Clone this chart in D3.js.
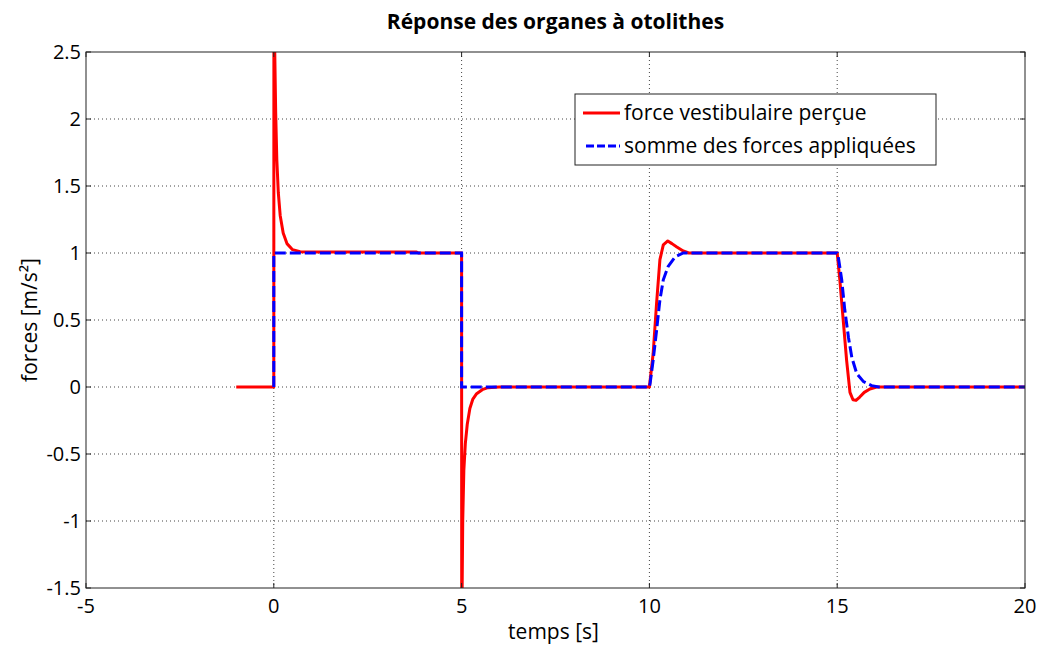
<!DOCTYPE html>
<html>
<head>
<meta charset="utf-8">
<script src="https://cdn.jsdelivr.net/npm/d3@7"></script>
<style>
  body { margin: 0; background: #fff; }
  svg { display: block; font-family: "Open Sans", "DejaVu Sans", sans-serif; }
  .grid line { stroke: #444; stroke-width: 1; stroke-dasharray: 1,3; }
  .tick-label { font-size: 20px; fill: #000; }
</style>
</head>
<body>
<svg id="chart" width="1043" height="646"></svg>
<script>
// values
const xTicks = [-5, 0, 5, 10, 15, 20];
const yTicks = [-1.5, -1, -0.5, 0, 0.5, 1, 1.5, 2, 2.5];

const redT = [-1, 0, 0.003, 0.02, 0.05, 0.08, 0.12, 0.17, 0.25, 0.35, 0.5, 0.7, 1.0, 3.8, 3.85,
  5, 5.003, 5.03, 5.06, 5.1, 5.15, 5.22, 5.3, 5.4, 5.55, 5.7, 6,
  10, 10.1, 10.19, 10.28, 10.37, 10.49, 10.6, 10.73, 10.9, 11.05,
  15, 15.07, 15.16, 15.25, 15.34, 15.42, 15.5, 15.6, 15.72, 15.87, 16.05, 20];
const redV = [0, 0, 3.2, 2.6, 2.05, 1.7, 1.45, 1.28, 1.15, 1.07, 1.025, 1.01, 1.008, 1.008, 1.0,
  1.0, -1.9, -1.0, -0.62, -0.42, -0.28, -0.16, -0.09, -0.05, -0.02, -0.005, 0,
  0, 0.25, 0.62, 0.95, 1.06, 1.09, 1.07, 1.045, 1.015, 1.0,
  1.0, 0.8, 0.5, 0.2, -0.04, -0.095, -0.1, -0.075, -0.04, -0.015, 0, 0];

const blueT = [0, 0, 5, 5, 10, 10.02, 10.1, 10.19, 10.28, 10.37, 10.5, 10.68, 10.9,
  15, 15.03, 15.12, 15.2, 15.3, 15.39, 15.52, 15.7, 15.92, 16.1, 20];
const blueV = [0, 1, 1, 0, 0, 0.03, 0.2, 0.42, 0.65, 0.8, 0.9, 0.97, 1.0,
  1.0, 0.97, 0.8, 0.58, 0.37, 0.22, 0.1, 0.04, 0.01, 0, 0];

const seriesNames = ['force vestibulaire perçue', 'somme des forces appliquées'];

const L = 86, R = 1025, T = 52, B = 588;
const svg = d3.select('#chart');
const x = d3.scaleLinear().domain([-5, 20]).range([L, R]);
const y = d3.scaleLinear().domain([-1.5, 2.5]).range([B, T]);

// grid
const grid = svg.append('g').attr('class', 'grid');
grid.selectAll('.gx').data(xTicks.slice(1, -1)).enter().append('line')
  .attr('x1', d => x(d)).attr('x2', d => x(d)).attr('y1', T).attr('y2', B);
grid.selectAll('.gy').data(yTicks.slice(1, -1)).enter().append('line')
  .attr('y1', d => y(d)).attr('y2', d => y(d)).attr('x1', L).attr('x2', R);

// clip
svg.append('clipPath').attr('id', 'clip').append('rect')
  .attr('x', L).attr('y', T).attr('width', R - L).attr('height', B - T);

const line = d3.line().x(d => x(d[0])).y(d => y(d[1])).curve(d3.curveMonotoneX);
const plot = svg.append('g').attr('clip-path', 'url(#clip)');
plot.append('path').datum(d3.zip(redT, redV)).attr('d', d3.line().x(d => x(d[0])).y(d => y(d[1])))
  .attr('fill', 'none').attr('stroke', '#ff0000').attr('stroke-width', 3).attr('stroke-linejoin', 'round');
plot.append('path').datum(d3.zip(blueT, blueV)).attr('d', d3.line().x(d => x(d[0])).y(d => y(d[1])))
  .attr('fill', 'none').attr('stroke', '#0000ff').attr('stroke-width', 3).attr('stroke-dasharray', '11,4');

// axes box with inward ticks
const axisCol = '#222';
const tk = 5;
const ax = svg.append('g').attr('stroke', axisCol).attr('stroke-width', 1);
ax.append('rect').attr('x', L).attr('y', T).attr('width', R - L).attr('height', B - T).attr('fill', 'none');
xTicks.forEach(t => {
  ax.append('line').attr('x1', x(t)).attr('x2', x(t)).attr('y1', B).attr('y2', B - tk);
  ax.append('line').attr('x1', x(t)).attr('x2', x(t)).attr('y1', T).attr('y2', T + tk);
});
yTicks.forEach(t => {
  ax.append('line').attr('y1', y(t)).attr('y2', y(t)).attr('x1', L).attr('x2', L + tk);
  ax.append('line').attr('y1', y(t)).attr('y2', y(t)).attr('x1', R).attr('x2', R - tk);
});

// tick labels
svg.selectAll('.xl').data(xTicks).enter().append('text').attr('class', 'tick-label')
  .attr('x', d => x(d)).attr('y', B + 25).attr('text-anchor', 'middle').text(d => d);
svg.selectAll('.yl').data(yTicks).enter().append('text').attr('class', 'tick-label')
  .attr('x', L - 5).attr('y', d => y(d) + 7).attr('text-anchor', 'end').text(d => d);

// titles
svg.append('text').attr('x', (L + R) / 2).attr('y', 29).attr('text-anchor', 'middle')
  .attr('font-size', 21).attr('font-weight', 'bold').text('Réponse des organes à otolithes');
svg.append('text').attr('x', (L + R) / 2 - 2).attr('y', 639).attr('text-anchor', 'middle')
  .attr('font-size', 21).text('temps [s]');
svg.append('text').attr('transform', `translate(37,${(T + B) / 2}) rotate(-90)`).attr('text-anchor', 'middle')
  .attr('font-size', 21).text('forces [m/s²]');

// legend
const lg = svg.append('g');
lg.append('rect').attr('x', 575).attr('y', 94).attr('width', 361).attr('height', 71)
  .attr('fill', '#fff').attr('stroke', '#222');
const rows = [
  { name: seriesNames[0], color: '#ff0000', dash: null, y: 113 },
  { name: seriesNames[1], color: '#0000ff', dash: '8,3', y: 146 }
];
rows.forEach(r => {
  lg.append('line').attr('x1', r.dash ? 586 : 583).attr('x2', 620).attr('y1', r.y).attr('y2', r.y)
    .attr('stroke', r.color).attr('stroke-width', 3).attr('stroke-dasharray', r.dash);
  lg.append('text').attr('x', 624).attr('y', r.y + 7).attr('font-size', 21).text(r.name);
});
</script>
</body>
</html>
